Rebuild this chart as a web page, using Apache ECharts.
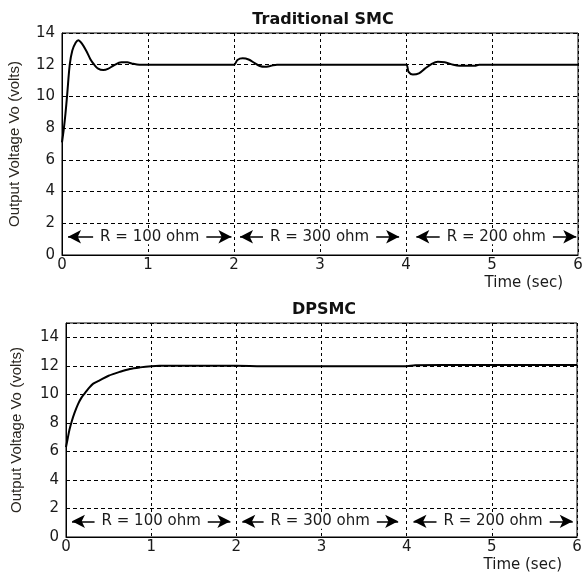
<!DOCTYPE html>
<html>
<head>
    <meta charset="UTF-8">
    <title>Traditional SMC vs DPSMC</title>
    <script src="https://cdn.jsdelivr.net/npm/echarts@6/dist/echarts.min.js"></script>
    <style>
        html, body { margin: 0; padding: 0; background: #fff; }
        #main { width: 582px; height: 574px; }
    </style>
</head>
<body>
<div id="main"></div>
<script>
    // Traditional SMC output voltage
    var smcTime = [0, 0.02, 0.04, 0.06, 0.09, 0.12, 0.16, 0.19, 0.23, 0.28, 0.33, 0.375, 0.42, 0.48, 0.54, 0.6, 0.69, 0.76, 0.81, 0.9,
        2.0, 2.04, 2.1, 2.17, 2.24, 2.3, 2.36, 2.43, 2.5,
        4.0, 4.03, 4.08, 4.15, 4.22, 4.3, 4.37, 4.45, 4.55, 4.62, 4.8, 4.85, 6.0];
    var smcVolt = [7.1, 7.9, 8.9, 10.1, 12.0, 12.9, 13.4, 13.55, 13.35, 12.9, 12.35, 12.0, 11.75, 11.66, 11.75, 11.95, 12.15, 12.15, 12.08, 12.0,
        12.0, 12.3, 12.4, 12.33, 12.1, 11.92, 11.87, 11.93, 12.0,
        12.0, 11.55, 11.38, 11.45, 11.75, 12.05, 12.18, 12.15, 12.0, 11.94, 11.94, 12.0, 12.0];

    // DPSMC output voltage
    var dpTime = [0, 0.02, 0.04, 0.067, 0.1, 0.14, 0.18, 0.22, 0.27, 0.32, 0.4, 0.5, 0.635, 0.75, 0.87, 1.0, 1.1, 2.0, 2.3, 3.9, 4.0, 4.1, 4.4, 6.0];
    var dpVolt = [6.3, 6.9, 7.5, 8.1, 8.7, 9.3, 9.75, 10.07, 10.45, 10.75, 11.0, 11.3, 11.58, 11.78, 11.89, 11.97, 12.0, 12.0, 11.97, 11.96, 11.97, 12.03, 12.06, 12.06];

    // load segment annotations
    var segLabels = ['R = 100 ohm', 'R = 300 ohm', 'R = 200 ohm'];
    var smcSegStart = [0.07, 2.07, 4.12];
    var smcSegEnd = [1.97, 3.92, 5.98];
    var smcSegY = 1.15;
    var dpSegStart = [0.07, 2.07, 4.08];
    var dpSegEnd = [1.93, 3.9, 5.95];
    var dpSegY = 1.1;

    var xTicks = { min: 0, max: 6, interval: 1 };

    function pairs(xs, ys) {
        return xs.map(function (x, i) { return [x, ys[i]]; });
    }

    function segLines(starts, ends, y) {
        return starts.map(function (s, i) {
            return [
                { coord: [s, y], label: { formatter: segLabels[i] } },
                { coord: [ends[i], y] }
            ];
        });
    }

    var txt = '#1a1a1a';
    var font = 'DejaVu Sans';

    function xAxisCfg(idx) {
        return {
            type: 'value', gridIndex: idx,
            min: xTicks.min, max: xTicks.max, interval: xTicks.interval,
            name: 'Time (sec)', nameLocation: 'end', nameGap: -15,
            nameTextStyle: { fontFamily: font, fontSize: 15, color: txt, align: 'right', verticalAlign: 'top', padding: [21, 0, 0, 0] },
            axisLine: { show: true, lineStyle: { color: '#000', width: 1 } },
            axisTick: { show: false },
            axisLabel: { fontFamily: font, fontSize: 15, color: txt, margin: 3 },
            splitLine: { show: true, lineStyle: { color: '#000', type: [3, 3], width: 1 } }
        };
    }

    function yAxisCfg(idx, max, gap) {
        return {
            type: 'value', gridIndex: idx,
            min: 0, max: max, interval: 2,
            name: 'Output Voltage Vo (volts)', nameLocation: 'middle', nameGap: gap,
            nameTextStyle: { fontFamily: 'Liberation Sans', fontSize: 15, color: '#2a2620' },
            axisLine: { show: true, lineStyle: { color: '#000', width: 1 } },
            axisTick: { show: false },
            axisLabel: { fontFamily: font, fontSize: 15, color: txt, margin: 7, showMaxLabel: max === 14 },
            splitLine: { show: true, lineStyle: { color: '#000', type: [4, 3], width: 1 } }
        };
    }

    function markCfg(starts, ends, y) {
        return {
            silent: true,
            symbol: ['arrow', 'arrow'],
            symbolSize: [10, 13],
            lineStyle: { color: '#000', type: 'solid', width: 1.5 },
            label: {
                show: true, position: 'middle', distance: 0,
                verticalAlign: 'middle',
                fontFamily: font, fontSize: 15, color: txt,
                backgroundColor: '#fff', padding: [0, 7]
            },
            data: segLines(starts, ends, y)
        };
    }

    var chart = echarts.init(document.getElementById('main'));
    chart.setOption({
        animation: false,
        backgroundColor: '#fff',
        title: [
            { text: 'Traditional SMC', left: 318, top: 7, textAlign: 'center',
              textStyle: { fontFamily: font, fontSize: 16, fontWeight: 'bold', color: '#111' } },
            { text: 'DPSMC', left: 319, top: 297, textAlign: 'center',
              textStyle: { fontFamily: font, fontSize: 16, fontWeight: 'bold', color: '#111' } }
        ],
        grid: [
            { left: 62, top: 33, right: 4, height: 222, outerBoundsMode: 'none', show: true, borderColor: '#000', borderWidth: 1, backgroundColor: 'transparent' },
            { left: 66, top: 323, right: 5, height: 214, outerBoundsMode: 'none', show: true, borderColor: '#000', borderWidth: 1, backgroundColor: 'transparent' }
        ],
        xAxis: [xAxisCfg(0), xAxisCfg(1)],
        yAxis: [yAxisCfg(0, 14, 40), yAxisCfg(1, 15, 42)],
        series: [
            {
                type: 'line', xAxisIndex: 0, yAxisIndex: 0,
                data: pairs(smcTime, smcVolt),
                showSymbol: false, smooth: 0.3,
                lineStyle: { color: '#000', width: 2 },
                markLine: markCfg(smcSegStart, smcSegEnd, smcSegY)
            },
            {
                type: 'line', xAxisIndex: 1, yAxisIndex: 1,
                data: pairs(dpTime, dpVolt),
                showSymbol: false, smooth: 0.3,
                lineStyle: { color: '#000', width: 2 },
                markLine: markCfg(dpSegStart, dpSegEnd, dpSegY)
            }
        ]
    });
</script>
</body>
</html>
